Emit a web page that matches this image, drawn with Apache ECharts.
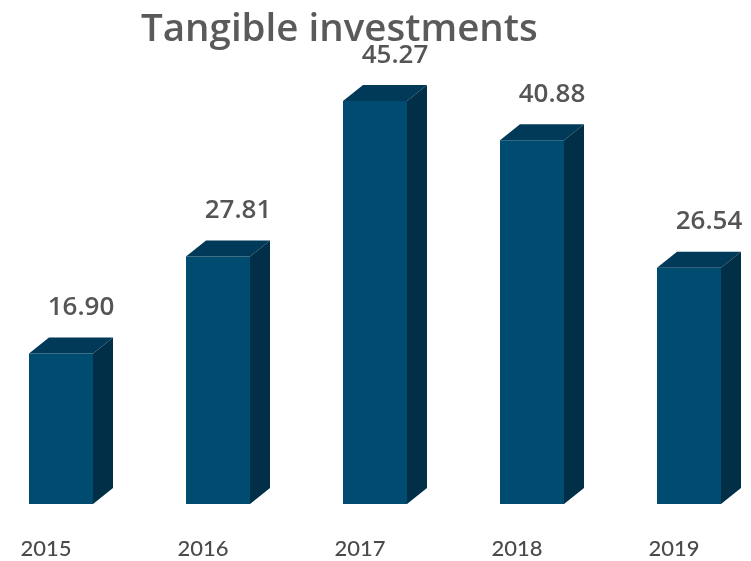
<!DOCTYPE html>
<html>
<head>
<meta charset="utf-8">
<style>
  html, body { margin: 0; padding: 0; background: #ffffff; }
  #chart { width: 751px; height: 561px; }
</style>
<script src="https://cdn.jsdelivr.net/npm/echarts@6/dist/echarts.min.js"></script>
</head>
<body>
<div id="chart"></div>
<script>
// Tangible investments per year
const years = ['2015', '2016', '2017', '2018', '2019'];
const investments = [16.90, 27.81, 45.27, 40.88, 26.54];
const valueLabels = ['16.90', '27.81', '45.27', '40.88', '26.54'];

const FRONT = '#004b70';
const TOP = '#003a58';
const SIDE = '#002f47';
const HALF_W = 32;   // half width of the front face
const DX = 20;       // depth offset to the right
const DY = 16;       // depth offset upwards

const chart = echarts.init(document.getElementById('chart'));

// Draws each bar as a box: front face, lid and right side, plus its value label
function renderBox(params, api) {
  const i = api.value(0);
  const v = api.value(1);
  const top = api.coord([i, v]);
  const base = api.coord([i, 0]);
  const cx = top[0];
  const x0 = cx - HALF_W, x1 = cx + HALF_W;
  const yT = top[1], yB = base[1];
  return {
    type: 'group',
    children: [
      {
        type: 'rect',
        shape: { x: x0, y: yT, width: x1 - x0, height: yB - yT },
        style: { fill: FRONT }
      },
      {
        type: 'polygon',
        shape: { points: [[x0, yT], [x0 + DX, yT - DY], [x1 + DX, yT - DY], [x1, yT]] },
        style: { fill: TOP }
      },
      {
        type: 'polygon',
        shape: { points: [[x1, yT], [x1 + DX, yT - DY], [x1 + DX, yB - DY], [x1, yB]] },
        style: { fill: SIDE }
      },
      {
        type: 'text',
        style: {
          text: valueLabels[params.dataIndex],
          x: cx + DX,
          y: yT - DY - 17,
          align: 'center',
          verticalAlign: 'bottom',
          fill: '#555555',
          font: '600 26px "Open Sans"'
        }
      }
    ]
  };
}

chart.setOption({
  animation: false,
  title: {
    text: 'Tangible investments',
    left: 136,
    top: 6,
    textStyle: {
      fontFamily: 'Open Sans',
      fontSize: 38.5,
      fontWeight: 600,
      color: '#5a5a5a'
    }
  },
  grid: { left: 61, right: 62, top: 59, bottom: 57 },
  xAxis: {
    type: 'category',
    data: years,
    boundaryGap: false,
    axisLine: { show: false },
    axisTick: { show: false },
    axisLabel: {
      margin: 34,
      fontFamily: 'Lato',
      fontSize: 22,
      fontWeight: 500,
      color: '#4a4a4a',
      padding: [0, 30, 0, 0]
    }
  },
  yAxis: {
    type: 'value',
    min: 0,
    max: 50,
    show: false,
    splitLine: { show: false }
  },
  series: [{
    type: 'custom',
    renderItem: renderBox,
    data: investments.map((v, i) => [i, v]),
    clip: false
  }]
});
</script>
</body>
</html>
